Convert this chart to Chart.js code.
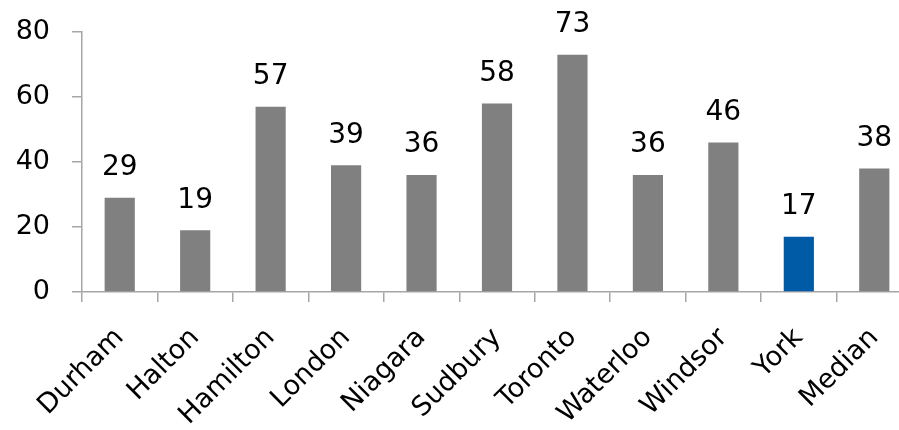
<!DOCTYPE html>
<html>
<head>
<meta charset="utf-8">
<script src="https://cdn.jsdelivr.net/npm/chart.js@4.4.0/dist/chart.umd.min.js"></script>
<style>
    html, body { margin: 0; padding: 0; background: #fff; overflow: hidden; }
    #wrap { width: 914px; height: 430px; }
</style>
</head>
<body>
<div id="wrap"><canvas id="chart"></canvas></div>
<script>
// Datos del gráfico
const regions = ['Durham', 'Halton', 'Hamilton', 'London', 'Niagara', 'Sudbury',
    'Toronto', 'Waterloo', 'Windsor', 'York', 'Median'];
const values = [29, 19, 57, 39, 36, 58, 73, 36, 46, 17, 38];
const yTicks = [0, 20, 40, 60, 80];

const fontFamily = '"DejaVu Sans", sans-serif';
const barColors = regions.map(r => r === 'York' ? '#005BA6' : '#808080');

// Plugin simple para poner el valor encima de cada barra
const valueLabels = {
    id: 'valueLabels',
    afterDatasetsDraw(chart) {
        const ctx = chart.ctx;
        const meta = chart.getDatasetMeta(0);
        ctx.save();
        ctx.fillStyle = '#000';
        ctx.font = '28px ' + fontFamily;
        ctx.textAlign = 'center';
        ctx.textBaseline = 'bottom';
        meta.data.forEach((bar, i) => {
            ctx.fillText(String(values[i]), bar.x, bar.y - 16);
        });
        ctx.restore();
    }
};

new Chart(document.getElementById('chart'), {
    type: 'bar',
    data: {
        labels: regions,
        datasets: [{
            data: values,
            backgroundColor: barColors,
            borderWidth: 0,
            categoryPercentage: 1,
            barPercentage: 0.4
        }]
    },
    options: {
        responsive: true,
        maintainAspectRatio: false,
        animation: false,
        layout: { padding: { top: 32, right: 2, left: 0, bottom: 0 } },
        plugins: {
            legend: { display: false },
            tooltip: { enabled: false }
        },
        scales: {
            y: {
                min: 0,
                max: 80,
                afterBuildTicks: scale => { scale.ticks = yTicks.map(v => ({ value: v })); },
                afterFit: scale => {
                    scale.width = 82;
                    scale.paddingTop = 0;
                    scale.paddingBottom = 0;
                },
                border: { color: '#A6A6A6', width: 1.5 },
                grid: { drawOnChartArea: false, drawTicks: true, tickLength: 10, color: '#A6A6A6', lineWidth: 1.5 },
                ticks: { color: '#000', padding: 22, font: { family: fontFamily, size: 27 } }
            },
            x: {
                afterFit: scale => {
                    scale.height = 138;
                    scale.paddingLeft = 0;
                    scale.paddingRight = 0;
                },
                border: { color: '#A6A6A6', width: 1.5 },
                grid: { drawOnChartArea: false, drawTicks: true, tickLength: 10, color: '#A6A6A6', lineWidth: 1.5 },
                ticks: {
                    color: '#000',
                    minRotation: 45,
                    maxRotation: 45,
                    padding: 20,
                    font: { family: fontFamily, size: 27 }
                }
            }
        }
    },
    plugins: [valueLabels]
});
</script>
</body>
</html>
